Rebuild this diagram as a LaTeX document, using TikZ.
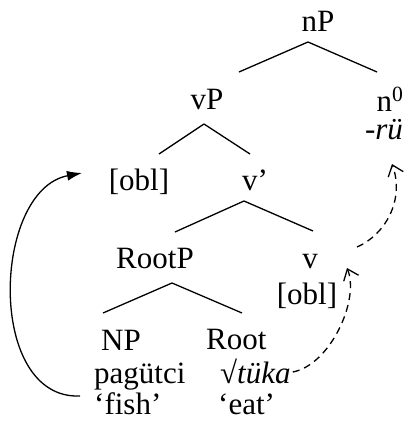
\documentclass[tikz,border=0pt]{standalone}
\usepackage{fontspec}
\setmainfont{Liberation Serif}
\usetikzlibrary{arrows.meta}
\tikzset{
  lbl/.style={inner sep=0pt, font=\fontsize{31}{33}\selectfont}, % every label
  % of the tree
  branch/.style={line width=1.3pt}, % the lines between mother and daughters
  move/.style={line width=1.3pt, dash pattern=on 7pt off 5pt,
    -{Straight Barb[length=10pt,width=16pt]}}, % head movement
  raise/.style={line width=1.3pt, -{Latex[length=15pt,width=10pt]}}, % the
  % object moving up
}

\begin{document}
\begin{tikzpicture}[x=1pt, y=-1pt, every node/.style={lbl}]
  \useasboundingbox (0,0) rectangle (409,425);

  % labels
  \node[anchor=base] (nP) at (318,32) {nP};
  \node[anchor=base] (vP) at (207,110) {vP};
  \node[anchor=base] (n0) at (390,111) {n\textsuperscript{0}};
  \node[anchor=base] (rue) at (384,139) {\textit{-rü}};
  \node[anchor=base] (spec) at (139,190) {[obl]};
  \node[anchor=base] (vbar) at (255,190) {v’};
  \node[anchor=base] (RootP) at (155,268) {RootP};
  \node[anchor=base] (v) at (310,268) {v};
  \node[anchor=base] (vobl) at (307,304) {[obl]};
  \node[anchor=base west] (NP) at (101,350) {NP};
  \node[anchor=base west] (fish) at (94,383) {pagütci};
  \node[anchor=base west] (fishgl) at (94,414) {‘fish’};
  \node[anchor=base west] (Root) at (206,349) {Root};
  \node[anchor=base west] (tuka) at (220,383) {√\textit{tüka}};
  \node[anchor=base west] (eat) at (218,414) {‘eat’};

  % branches
  \draw[branch] ([shift={(-10,10)}]nP.base) -- ([shift={(32,-38)}]vP.base);
  \draw[branch] ([shift={(-10,10)}]nP.base) -- ([shift={(-13,-39)}]n0.base);
  \draw[branch] ([shift={(-3,14)}]vP.base) -- ([shift={(20,-36)}]spec.base);
  \draw[branch] ([shift={(-3,14)}]vP.base) -- ([shift={(-5,-36)}]vbar.base);
  \draw[branch] ([shift={(-11,11)}]vbar.base) -- ([shift={(20,-36)}]RootP.base);
  \draw[branch] ([shift={(-11,11)}]vbar.base) -- ([shift={(3,-37)}]v.base);
  \draw[branch] ([shift={(17,15)}]RootP.base) -- ([shift={(2,-37)}]NP.base west);
  \draw[branch] ([shift={(17,15)}]RootP.base) -- ([shift={(36,-36)}]Root.base west);

  % movement
  \draw[raise] ([shift={(-14,13)}]fish.base west)
    .. controls (-14,400) and (-8,190) .. ([shift={(-57,-17)}]spec.base);
  \draw[move] ([shift={(2,-11)}]tuka.base east)
    .. controls (330,365) and (360,300) .. ([shift={(37,0)}]v.base);
  \draw[move] ([shift={(47,-21)}]v.base)
    .. controls (385,235) and (405,200) .. ([shift={(8,25)}]rue.base);
\end{tikzpicture}
\end{document}
